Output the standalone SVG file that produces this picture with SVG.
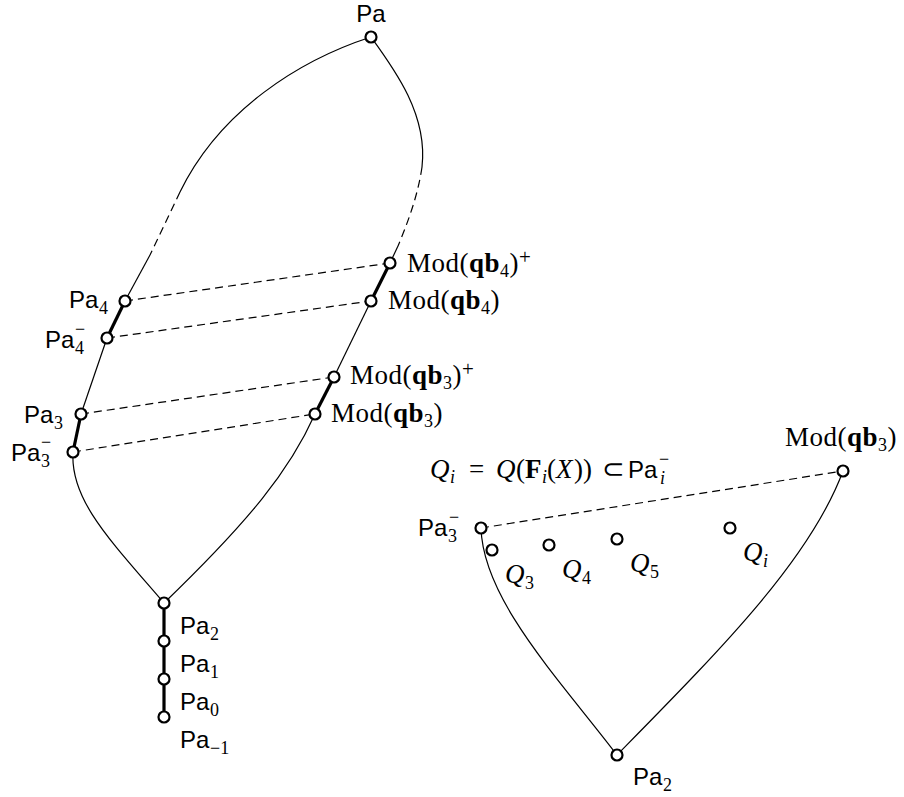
<svg xmlns="http://www.w3.org/2000/svg" width="904" height="797" viewBox="0 0 904 797">
<style>
.s{font-family:"Liberation Sans",Arial,sans-serif;font-size:24px;fill:#000}
.m{font-family:"Liberation Serif","Times New Roman",serif;font-size:27px;fill:#000}
.ml{letter-spacing:0.5px}
.d{font-family:"Liberation Serif","Times New Roman",serif;font-size:18px;fill:#000}
.p{font-size:21px}
.b{font-weight:bold}
.i{font-style:italic}
.n{fill:#fff;stroke:#000;stroke-width:2.2}
.t{fill:none;stroke:#000;stroke-width:1.2}
.k{fill:none;stroke:#000;stroke-width:3.2}
.ds{stroke-dasharray:8 5}
</style>
<rect width="904" height="797" fill="#fff"/>
<g id="connectors">
  <path class="t" d="M371,37 C300,60 220,110 180,192"/>
  <path class="t ds" d="M180,192 L150,255"/>
  <path class="t" d="M150,255 L125,301"/>
  <path class="t" d="M371,37 C395,70 428,115 422,167"/>
  <path class="t ds" d="M422,167 C418,195 408,222 398,246"/>
  <path class="t" d="M398,246 L390,263"/>
  <path class="k" d="M125,301 L107,338"/>
  <path class="t" d="M107,338 L81,414"/>
  <path class="k" d="M81,414 L73,452"/>
  <path class="t" d="M73,452 C70,500 110,540 164,603"/>
  <path class="k" d="M390,263 L371,301"/>
  <path class="t" d="M371,301 L334,377"/>
  <path class="k" d="M334,377 L315,414"/>
  <path class="t" d="M315,414 C290,470 250,520 164,603"/>
  <path class="k" d="M164,603 L164,717"/>
  <path class="t ds" d="M125,301 L390,263"/>
  <path class="t ds" d="M107,338 L371,301"/>
  <path class="t ds" d="M81,414 L334,377"/>
  <path class="t ds" d="M73,452 L315,414"/>
  <path class="t ds" d="M481,528 L843,471"/>
  <path class="t" d="M481,528 C483,600 560,680 617,755"/>
  <path class="t" d="M843,471 C810,560 720,650 617,755"/>
</g>
<g id="n-Pa">
  <circle class="n" cx="371" cy="37" r="5.5"/>
  <text class="s" x="371" y="22" text-anchor="middle">Pa</text>
</g>
<g id="n-Pa4">
  <circle class="n" cx="125" cy="301" r="5.5"/>
  <text class="s" x="69" y="308">Pa</text><text class="d" x="99" y="314">4</text>
</g>
<g id="n-Pa4m">
  <circle class="n" cx="107" cy="338" r="5.5"/>
  <text class="s" x="45" y="348">Pa</text><text class="d" x="75" y="354">4</text><text class="d" x="75" y="335">−</text>
</g>
<g id="n-Pa3">
  <circle class="n" cx="81" cy="414" r="5.5"/>
  <text class="s" x="24" y="423">Pa</text><text class="d" x="54" y="429">3</text>
</g>
<g id="n-Pa3m">
  <circle class="n" cx="73" cy="452" r="5.5"/>
  <text class="s" x="11" y="461">Pa</text><text class="d" x="41" y="467">3</text><text class="d" x="41" y="448">−</text>
</g>
<g id="n-Modqb4p">
  <circle class="n" cx="390" cy="263" r="5.5"/>
  <text class="m ml" x="407" y="272">Mod(<tspan class="b">qb</tspan><tspan font-size="18" dy="5">4</tspan><tspan dy="-5">)</tspan><tspan class="p" dy="-8">+</tspan></text>
</g>
<g id="n-Modqb4">
  <circle class="n" cx="371" cy="301" r="5.5"/>
  <text class="m ml" x="388" y="309">Mod(<tspan class="b">qb</tspan><tspan font-size="18" dy="5">4</tspan><tspan dy="-5">)</tspan></text>
</g>
<g id="n-Modqb3p">
  <circle class="n" cx="334" cy="377" r="5.5"/>
  <text class="m ml" x="350" y="384">Mod(<tspan class="b">qb</tspan><tspan font-size="18" dy="5">3</tspan><tspan dy="-5">)</tspan><tspan class="p" dy="-8">+</tspan></text>
</g>
<g id="n-Modqb3">
  <circle class="n" cx="315" cy="414" r="5.5"/>
  <text class="m ml" x="331" y="422">Mod(<tspan class="b">qb</tspan><tspan font-size="18" dy="5">3</tspan><tspan dy="-5">)</tspan></text>
</g>
<g id="n-Pa2">
  <circle class="n" cx="164" cy="603" r="5.5"/>
  <text class="s" x="180" y="634">Pa</text><text class="d" x="210" y="640">2</text>
</g>
<g id="n-Pa1">
  <circle class="n" cx="164" cy="641" r="5.5"/>
  <text class="s" x="180" y="672">Pa</text><text class="d" x="210" y="678">1</text>
</g>
<g id="n-Pa0">
  <circle class="n" cx="164" cy="679" r="5.5"/>
  <text class="s" x="180" y="710">Pa</text><text class="d" x="210" y="716">0</text>
</g>
<g id="n-Pam1">
  <circle class="n" cx="164" cy="717" r="5.5"/>
  <text class="s" x="180" y="748">Pa</text><text class="d" x="210" y="754">−1</text>
</g>
<g id="eq">
  <text class="m" y="478"><tspan class="i" x="430">Q</tspan><tspan class="i" font-size="18" x="450" y="483">i</tspan><tspan x="469" y="478">=</tspan><tspan class="i" x="496">Q</tspan><tspan x="516">(</tspan><tspan class="b" x="525">F</tspan><tspan class="i" font-size="18" x="542" y="483">i</tspan><tspan x="547" y="478">(</tspan><tspan class="i" x="556">X</tspan><tspan x="574">))</tspan><tspan x="602">⊂</tspan></text>
  <text class="s" x="628" y="478">Pa</text><text class="d i" x="660" y="484">i</text><text class="d" x="659" y="465">−</text>
</g>
<g id="n-R-Pa3m">
  <circle class="n" cx="481" cy="528" r="5.5"/>
  <text class="s" x="418" y="536">Pa</text><text class="d" x="448" y="542">3</text><text class="d" x="449" y="523">−</text>
</g>
<g id="n-R-Modqb3">
  <circle class="n" cx="843" cy="471" r="5.5"/>
  <text class="m ml" x="785" y="446">Mod(<tspan class="b">qb</tspan><tspan font-size="18" dy="5">3</tspan><tspan dy="-5">)</tspan></text>
</g>
<g id="n-Q3">
  <circle class="n" cx="492" cy="550" r="5.5"/>
  <text class="m i" x="505" y="583">Q</text><text class="d" x="525" y="589">3</text>
</g>
<g id="n-Q4">
  <circle class="n" cx="549" cy="545" r="5.5"/>
  <text class="m i" x="562" y="578">Q</text><text class="d" x="582" y="584">4</text>
</g>
<g id="n-Q5">
  <circle class="n" cx="617" cy="539" r="5.5"/>
  <text class="m i" x="630" y="572">Q</text><text class="d" x="650" y="578">5</text>
</g>
<g id="n-Qi">
  <circle class="n" cx="730" cy="528" r="5.5"/>
  <text class="m i" x="743" y="561">Q</text><text class="d i" x="763" y="567">i</text>
</g>
<g id="n-R-Pa2">
  <circle class="n" cx="617" cy="755" r="5.5"/>
  <text class="s" x="633" y="785">Pa</text><text class="d" x="663" y="791">2</text>
</g>
</svg>
